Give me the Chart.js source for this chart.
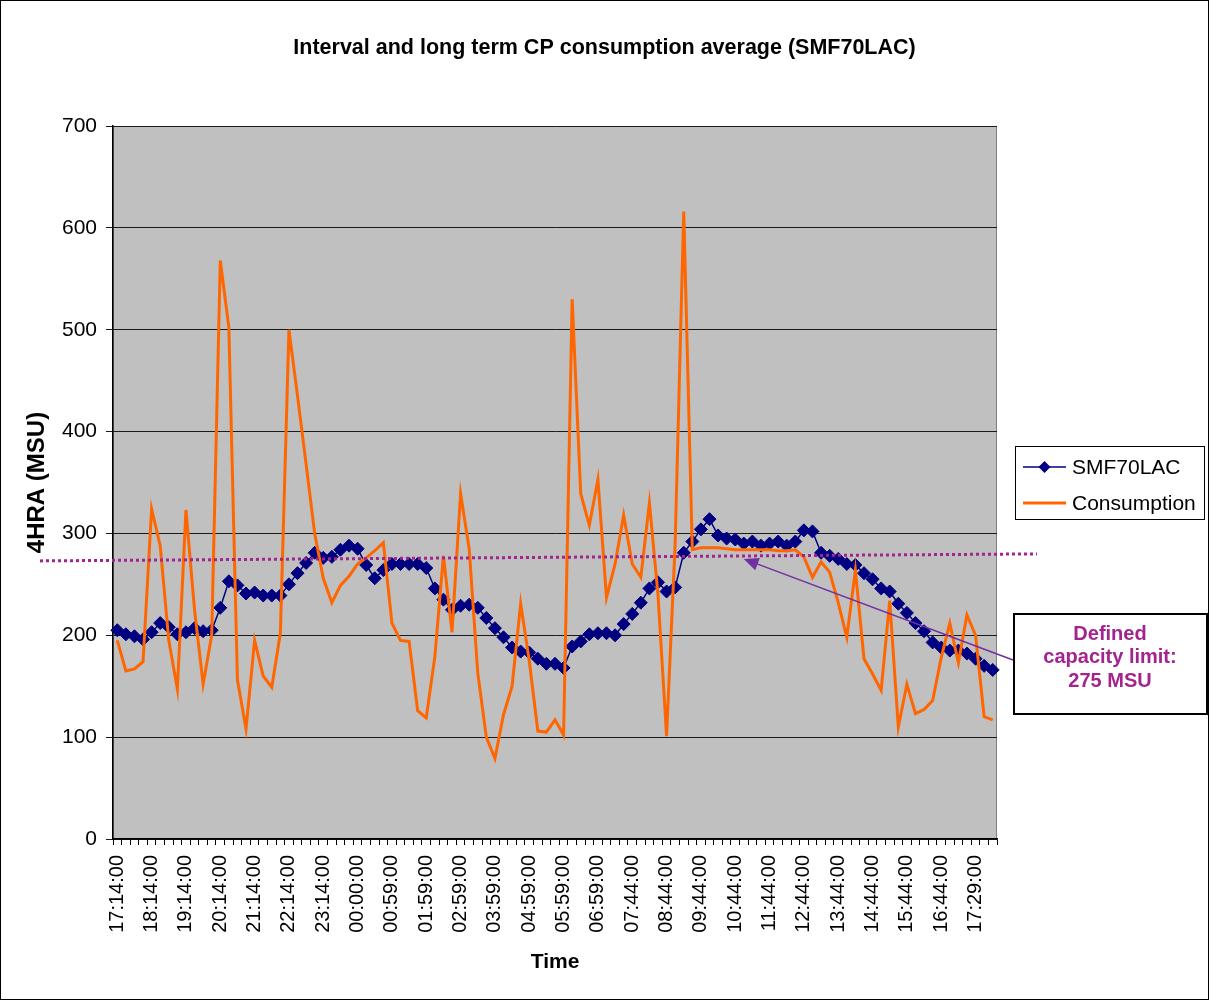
<!DOCTYPE html>
<html>
<head>
<meta charset="utf-8">
<title>Interval and long term CP consumption average (SMF70LAC)</title>
<script src="https://cdn.jsdelivr.net/npm/chart.js@4/dist/chart.umd.min.js"></script>
<style>
  html, body { margin: 0; padding: 0; background: #fff; }
  #wrap { width: 1209px; height: 1000px; }
</style>
</head>
<body>
<div id="wrap"><canvas id="grafica" width="1209" height="1000"></canvas></div>
<script>
const titulo = 'Interval and long term CP consumption average (SMF70LAC)';

// etiquetas visibles del eje X (una cada 4 intervalos)
const tickLabels = [
  '17:14:00', '18:14:00', '19:14:00', '20:14:00', '21:14:00', '22:14:00', '23:14:00',
  '00:00:00', '00:59:00', '01:59:00', '02:59:00', '03:59:00', '04:59:00', '05:59:00',
  '06:59:00', '07:44:00', '08:44:00', '09:44:00', '10:44:00', '11:44:00', '12:44:00',
  '13:44:00', '14:44:00', '15:44:00', '16:44:00', '17:29:00'
];

// 4HRA (MSU)
const smf70lac = [
  205, 201, 199, 196, 203, 212, 208, 201, 203, 207, 204, 205, 227, 253, 249, 241,
  242, 239, 239, 239, 250, 261, 271, 281, 276, 277, 284, 288, 285, 269, 256, 264,
  270, 270, 270, 270, 266, 246, 235, 225, 229, 230, 227, 217, 207, 198, 188, 184,
  183, 177, 172, 172, 168, 189, 194, 201, 202, 202, 200, 211, 221, 232, 246, 252,
  243, 247, 281, 292, 304, 314, 298, 295, 294, 290, 292, 288, 290, 292, 288, 292,
  303, 302, 281, 278, 275, 270, 269, 261, 255, 246, 243, 231, 222, 212, 204, 193,
  188, 185, 185, 182, 177, 170, 166
];

const consumption = [
  195, 165, 167, 174, 324, 288, 195, 147, 323, 225, 152, 200, 568, 502, 156, 108,
  195, 160, 149, 202, 500, 435, 368, 300, 256, 232, 249, 258, 270, 276, 283, 291,
  212, 195, 194, 126, 119, 179, 278, 203, 339, 285, 163, 100, 79, 122, 150, 231,
  175, 106, 105, 117, 102, 530, 339, 308, 353, 237, 270, 318, 270, 257, 330, 240,
  101, 290, 616, 284, 286, 286, 286, 285, 284, 284, 284, 284, 284, 283, 283, 284,
  277, 257, 272, 262, 232, 198, 264, 177, 162, 146, 234, 110, 152, 123, 127, 136,
  178, 212, 173, 220, 200, 120, 117
];

const limite = 275;
const textoLimite = ['Defined', 'capacity limit:', '275 MSU'];

const categorias = smf70lac.map((v, i) => (i % 4 === 0 ? tickLabels[i / 4] : ''));

const FUENTE = '"Liberation Sans", Arial, sans-serif';

const adornos = {
  id: 'adornos',
  beforeDraw(chart) {
    const { ctx, chartArea: a } = chart;
    ctx.save();
    ctx.fillStyle = '#fff';
    ctx.fillRect(0, 0, chart.width, chart.height);
    ctx.fillStyle = '#c0c0c0';
    ctx.fillRect(a.left, a.top, a.right - a.left, a.bottom - a.top);
    ctx.strokeStyle = '#808080';
    ctx.lineWidth = 1;
    ctx.strokeRect(a.left + 0.5, a.top + 0.5, a.right - a.left - 1, a.bottom - a.top);
    ctx.restore();
  },
  afterDraw(chart) {
    const { ctx, chartArea: a, scales } = chart;
    const ds = chart.data.datasets;
    ctx.save();

    // titulo
    ctx.fillStyle = '#000';
    ctx.font = 'bold 21.5px ' + FUENTE;
    ctx.textAlign = 'center';
    ctx.textBaseline = 'middle';
    ctx.fillText(titulo, chart.width / 2, 48);

    // linea punteada del limite
    const yLim = scales.y.getPixelForValue(limite);
    ctx.strokeStyle = '#a3238f';
    ctx.lineWidth = 3;
    ctx.setLineDash([3, 3]);
    ctx.beginPath();
    ctx.moveTo(40, yLim + 2);
    ctx.lineTo(a.right + 40, yLim - 5);
    ctx.stroke();
    ctx.setLineDash([]);

    // leyenda
    const lx = a.right + 18, ly = 446, lw = 189, lh = 73;
    ctx.fillStyle = '#fff';
    ctx.fillRect(lx, ly, lw, lh);
    ctx.strokeStyle = '#000';
    ctx.lineWidth = 1;
    ctx.strokeRect(lx + 0.5, ly + 0.5, lw, lh);
    ctx.font = '21px ' + FUENTE;
    ctx.textAlign = 'left';
    [ds[0], ds[1]].forEach((d, i) => {
      const yy = ly + 21 + i * 36;
      ctx.strokeStyle = d.borderColor;
      ctx.lineWidth = d.borderWidth;
      ctx.beginPath();
      ctx.moveTo(lx + 8, yy);
      ctx.lineTo(lx + 51, yy);
      ctx.stroke();
      if (d.pointRadius) {
        const r = d.pointRadius - 0.5, cx = lx + 29.5;
        ctx.fillStyle = d.pointBackgroundColor;
        ctx.beginPath();
        ctx.moveTo(cx - r, yy);
        ctx.lineTo(cx, yy - r);
        ctx.lineTo(cx + r, yy);
        ctx.lineTo(cx, yy + r);
        ctx.closePath();
        ctx.fill();
      }
      ctx.fillStyle = '#000';
      ctx.fillText(d.label, lx + 57, yy + 1);
    });

    // flecha hacia la linea del limite
    const bx = 1013, by = 613, bw = 195, bh = 102;
    const tipX = scales.x.getPixelForValue(73), tipY = yLim;
    const colaX = bx, colaY = 660;
    const ang = Math.atan2(colaY - tipY, colaX - tipX);
    ctx.strokeStyle = '#7030a0';
    ctx.fillStyle = '#7030a0';
    ctx.lineWidth = 1.5;
    ctx.beginPath();
    ctx.moveTo(colaX, colaY);
    ctx.lineTo(tipX + Math.cos(ang) * 12, tipY + Math.sin(ang) * 12);
    ctx.stroke();
    ctx.beginPath();
    ctx.moveTo(tipX, tipY);
    ctx.lineTo(tipX + Math.cos(ang + 0.42) * 16, tipY + Math.sin(ang + 0.42) * 16);
    ctx.lineTo(tipX + Math.cos(ang - 0.42) * 16, tipY + Math.sin(ang - 0.42) * 16);
    ctx.closePath();
    ctx.fill();

    // cuadro de texto
    ctx.fillStyle = '#fff';
    ctx.fillRect(bx, by, bw, bh);
    ctx.strokeStyle = '#000';
    ctx.lineWidth = 2;
    ctx.strokeRect(bx + 1, by + 1, bw - 2, bh - 2);
    ctx.fillStyle = '#a3238f';
    ctx.font = 'bold 20px ' + FUENTE;
    ctx.textAlign = 'center';
    textoLimite.forEach((t, i) => ctx.fillText(t, bx + 97, by + 21 + i * 23.5));

    // borde exterior
    ctx.strokeStyle = '#000';
    ctx.lineWidth = 1;
    ctx.strokeRect(0.5, 0.5, chart.width - 1, chart.height - 1);
    ctx.restore();
  }
};

const ctx = document.getElementById('grafica').getContext('2d');

new Chart(ctx, {
  type: 'line',
  data: {
    labels: categorias,
    datasets: [
      {
        label: 'SMF70LAC',
        data: smf70lac,
        borderColor: '#000080',
        backgroundColor: '#000080',
        pointBackgroundColor: '#000080',
        pointBorderColor: '#000080',
        borderWidth: 1.5,
        pointStyle: 'rectRot',
        pointRadius: 6.5,
        pointBorderWidth: 1,
        tension: 0,
        order: 1
      },
      {
        label: 'Consumption',
        data: consumption,
        borderColor: '#ff6600',
        backgroundColor: '#ff6600',
        borderWidth: 3,
        pointRadius: 0,
        tension: 0,
        order: 0
      }
    ]
  },
  options: {
    responsive: false,
    animation: false,
    layout: { padding: { top: 126, right: 212, bottom: 0, left: 0 } },
    plugins: {
      legend: { display: false },
      title: { display: false },
      tooltip: { enabled: false }
    },
    scales: {
      x: {
        offset: true,
        afterFit: s => { s.height = 161; },
        grid: {
          offset: true,
          drawOnChartArea: false,
          drawTicks: true,
          tickLength: 6,
          color: '#000'
        },
        border: { color: '#000', width: 1.5 },
        ticks: {
          autoSkip: false,
          minRotation: 90,
          maxRotation: 90,
          padding: 10,
          color: '#000',
          font: { family: FUENTE, size: 20 }
        },
        title: {
          display: true,
          text: 'Time',
          color: '#000',
          font: { family: FUENTE, size: 21, weight: 'bold' },
          padding: { top: 0, bottom: 25 }
        }
      },
      y: {
        min: 0,
        max: 700,
        afterFit: s => { s.width = 113; },
        ticks: {
          stepSize: 100,
          padding: 9,
          color: '#000',
          font: { family: FUENTE, size: 21 }
        },
        grid: {
          color: '#1a1a1a',
          lineWidth: 1,
          tickLength: 7
        },
        border: { color: '#000', width: 1.5 },
        title: {
          display: true,
          text: '4HRA (MSU)',
          color: '#000',
          font: { family: FUENTE, size: 24, weight: 'bold' },
          padding: { top: 23, bottom: 0 }
        }
      }
    }
  },
  plugins: [adornos]
});
</script>
</body>
</html>
